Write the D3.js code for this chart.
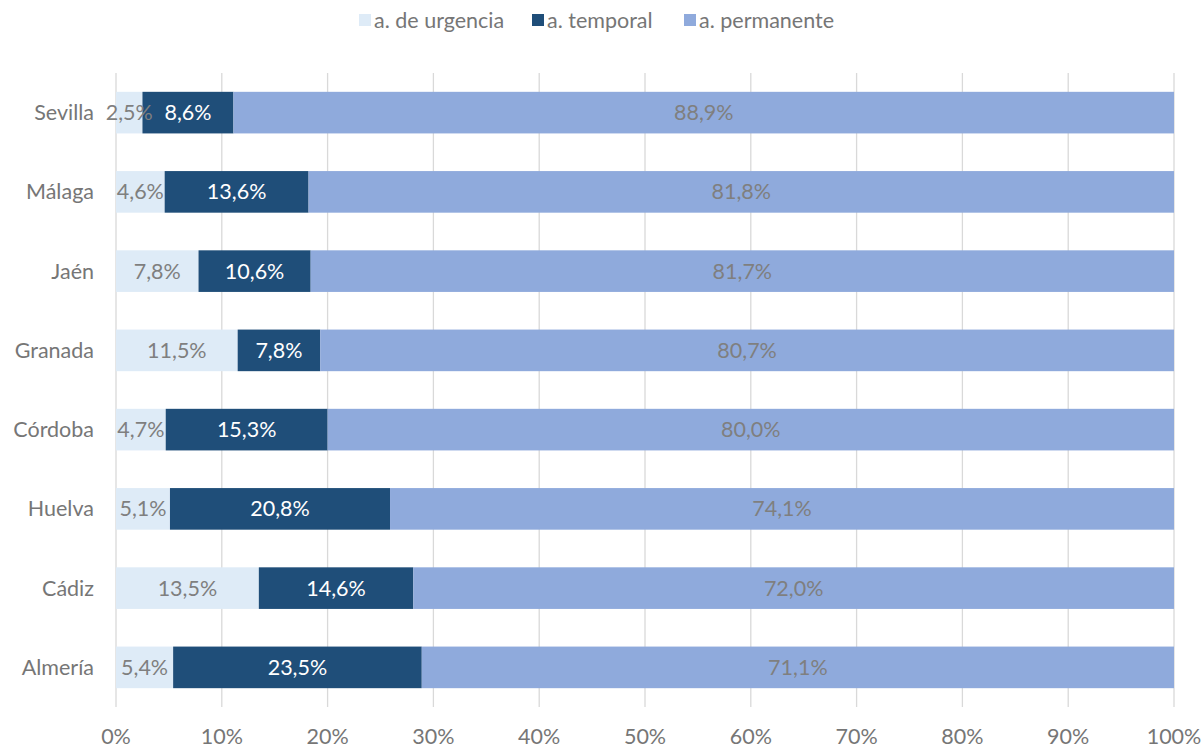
<!DOCTYPE html>
<html>
<head>
<meta charset="utf-8">
<script src="https://cdn.jsdelivr.net/npm/d3@7"></script>
<style>
body { margin: 0; background: #fff; }
text { font-family: Lato, "Open Sans", sans-serif; }
</style>
</head>
<body>
<div id="chart"></div>
<script>
const provincias = ["Sevilla", "Málaga", "Jaén", "Granada", "Córdoba", "Huelva", "Cádiz", "Almería"];
const urgencia = [2.5, 4.6, 7.8, 11.5, 4.7, 5.1, 13.5, 5.4];
const temporal = [8.6, 13.6, 10.6, 7.8, 15.3, 20.8, 14.6, 23.5];
const permanente = [88.9, 81.8, 81.7, 80.7, 80.0, 74.1, 72.0, 71.1];
const series = ["a. de urgencia", "a. temporal", "a. permanente"];
const colores = ["#deebf7", "#1f4e79", "#8faadc"];
const colorTexto = ["#7f7f7f", "#ffffff", "#7f7f7f"];
const xTicks = [0, 10, 20, 30, 40, 50, 60, 70, 80, 90, 100];

const width = 1203, height = 749;
const fs = 21.5;
const svg = d3.select("#chart")
.append("svg")
.attr("width", width)
.attr("height", height);

const x = d3.scaleLinear()
.domain([0, 100])
.range([116, 1174]);

const y = d3.scaleBand()
.domain(provincias)
.range([73, 707])
.paddingInner(0.475)
.paddingOuter(0.2375);

// gridlines
svg.selectAll(".grid")
    .data(xTicks)
    .join("line")
    .attr("class", "grid")
    .attr("x1", d => x(d))
    .attr("x2", d => x(d))
    .attr("y1", 73)
    .attr("y2", 707)
    .attr("stroke", "#d9d9d9")
    .attr("stroke-width", 1.3);

// stacked data
const rows = provincias.map((p, i) => {
    let vals = [urgencia[i], temporal[i], permanente[i]];
    let acc = 0;
    return vals.map((v, k) => {
        let seg = {prov: p, k: k, v: v, x0: acc, x1: acc + v};
        acc += v;
        return seg;
    });
}).flat();

svg.selectAll(".seg")
    .data(rows)
    .join("rect")
    .attr("class", "seg")
    .attr("x", d => x(d.x0))
    .attr("y", d => y(d.prov))
    .attr("width", d => Math.min(x(d.x1), x(100)) - x(d.x0))
    .attr("height", y.bandwidth())
    .attr("fill", d => colores[d.k]);

svg.selectAll(".lbl")
    .data(rows)
    .join("text")
    .attr("class", "lbl")
    .attr("x", d => (x(d.x0) + Math.min(x(d.x1), x(100))) / 2)
    .attr("y", d => y(d.prov) + y.bandwidth() / 2)
    .attr("dy", "0.35em")
    .attr("text-anchor", "middle")
    .attr("font-size", fs)
    .attr("fill", d => colorTexto[d.k])
    .text(d => d.v.toFixed(1).replace(".", ",") + "%");

// category labels
svg.selectAll(".cat")
    .data(provincias)
    .join("text")
    .attr("class", "cat")
    .attr("x", 94)
    .attr("y", d => y(d) + y.bandwidth() / 2)
    .attr("dy", "0.35em")
    .attr("text-anchor", "end")
    .attr("font-size", fs)
    .attr("fill", "#767676")
    .text(d => d);

// x axis labels
svg.selectAll(".xt")
    .data(xTicks)
    .join("text")
    .attr("class", "xt")
    .attr("x", d => x(d))
    .attr("y", 736)
    .attr("dy", "0.35em")
    .attr("text-anchor", "middle")
    .attr("font-size", fs)
    .attr("fill", "#767676")
    .text(d => d + "%");

// legend
const legX = [359, 532, 684];
const leg = svg.selectAll(".leg")
    .data(series)
    .join("g")
    .attr("class", "leg")
    .attr("transform", (d, i) => `translate(${legX[i]},20)`);
leg.append("rect")
    .attr("x", 0)
    .attr("y", -6)
    .attr("width", 12)
    .attr("height", 12)
    .attr("fill", (d, i) => colores[i]);
leg.append("text")
    .attr("x", 15)
    .attr("y", 0)
    .attr("dy", "0.35em")
    .attr("font-size", fs)
    .attr("fill", "#767676")
    .text(d => d);
</script>
</body>
</html>
